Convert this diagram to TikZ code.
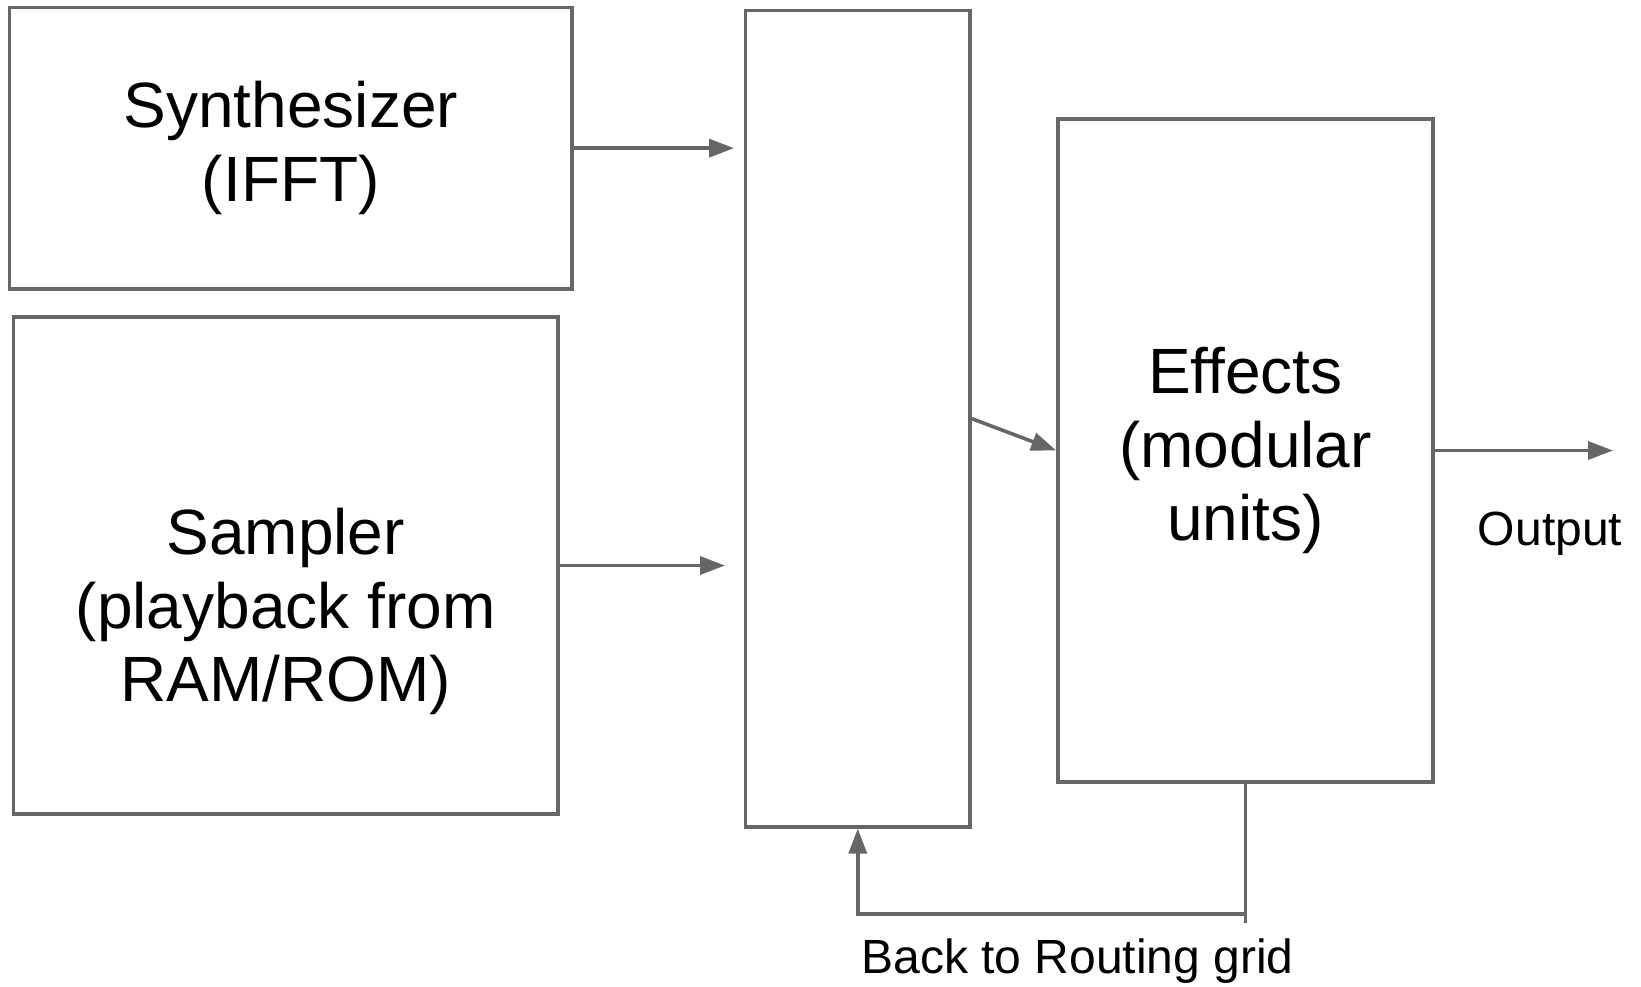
\documentclass[tikz,border=0pt]{standalone}
\usepackage{fontspec}
\setmainfont{Liberation Sans}
\usetikzlibrary{arrows.meta, positioning, calc}
\definecolor{linegray}{RGB}{102, 102, 102}

\begin{document}
\begin{tikzpicture}[
        x=0.5pt, y=-0.5pt,
        block/.style={rectangle, draw=linegray, line width=1.8pt, align=center, inner sep=0pt, font=\fontsize{32}{36.8}\selectfont},
        arrow/.style={-{Triangle[length=12.5pt, width=9pt]}, line width=1.8pt, draw=linegray},
        link/.style={line width=1.8pt, draw=linegray},
        caption/.style={font=\fontsize{24}{27.6}\selectfont, inner sep=0pt}
    ]
        \useasboundingbox (0,0) rectangle (1641,986);

        \node[block, minimum width=281.25pt, minimum height=140.85pt] (synth) at (290.75, 148.15) {Synthesizer\\(IFFT)};
        \node[block, minimum width=272.3pt, minimum height=248.5pt] (sampler) at (285.7, 565.5) {};
        \node[align=center, inner sep=0pt, font=\fontsize{32}{36.8}\selectfont] (samplertext) at ([yshift=-23pt]sampler.center) {Sampler\\(playback from\\RAM/ROM)};
        \node[block, minimum width=112.25pt, minimum height=408.15pt] (routing) at (857.75, 418.65) {};
        \node[block, minimum width=187.5pt, minimum height=331.25pt] (effects) at (1245.5, 450.5) {Effects\\(modular\\units)};

        % free arrow ends
        \coordinate (synthin) at (734, 148.15);
        \coordinate (samplerin) at (725, 565.5);
        \coordinate (out) at (1613, 450.5);
        \coordinate (fb) at (857.75, 914);
        \coordinate (fbend) at (1245.5, 923);

        \draw[arrow] (synth.east) -- (synthin);
        \draw[arrow] (sampler.east) -- (samplerin);
        \draw[arrow] (routing.east) -- (effects.west);
        \draw[arrow] (effects.east) -- (out);

        % feedback to the routing grid
        \draw[link] (effects.south) -- (fbend);
        \draw[arrow] (effects.south |- fb) -- (fb) -- (routing.south);

        \node[caption, anchor=base] (output) at (1550, 545) {Output};
        \node[caption, anchor=base west] (back) at (861, 973) {Back to Routing grid};
    \end{tikzpicture}
\end{document}
